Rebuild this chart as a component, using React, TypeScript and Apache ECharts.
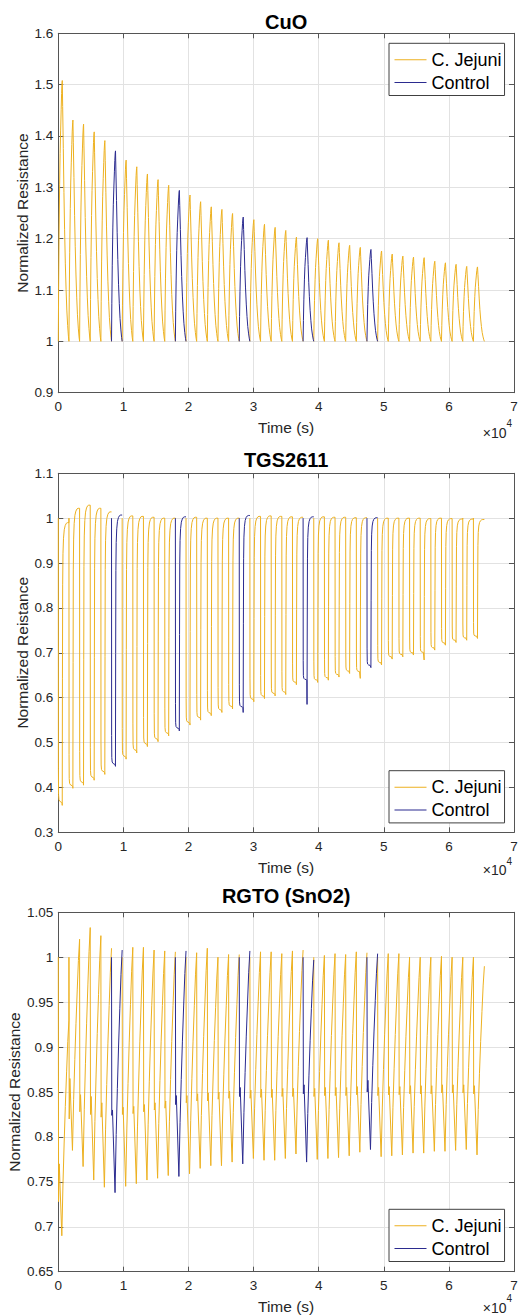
import React, { useEffect, useRef } from "react";
import * as echarts from "echarts";

// ---------------- data ----------------
// start time (s) of each exposure cycle
const cycleStart = [
  0, 1635, 3270, 4905, 6540, 8175, 9810, 11445, 13080, 14715,
  16350, 17985, 19620, 21255, 22890, 24525, 26160, 27795, 29430, 31065,
  32700, 34335, 35970, 37605, 39240, 40875, 42510, 44145, 45780, 47415,
  49050, 50685, 52320, 53955, 55590, 57225, 58860, 60495, 62130, 63765,
];
const lastCycleEnd = 65450;
// cycles that are Control exposures (others are C. Jejuni)
const controlCycles = [5, 11, 17, 23, 29];

const seriesNames = ["C. Jejuni", "Control"];
const panelTitles = ["CuO", "TGS2611", "RGTO (SnO2)"];
const yAxisNames = ["Normalized Resistance", "Normalized Reistance", "Normalized Resistance"];
const xAxisName = "Time (s)";
const xMin = 0;
const xMax = 70000;
const xStep = 10000;
const yMin = [0.9, 0.3, 0.65];
const yMax = [1.6, 1.1, 1.05];
const yStep = [0.1, 0.1, 0.05];

// CuO: peak of each cycle
const cuoPeak = [
  1.508, 1.431, 1.423, 1.408, 1.391, 1.371, 1.353, 1.34, 1.326, 1.315,
  1.304, 1.294, 1.285, 1.272, 1.262, 1.257, 1.249, 1.242, 1.237, 1.228,
  1.222, 1.216, 1.203, 1.202, 1.2, 1.197, 1.192, 1.187, 1.183, 1.179,
  1.176, 1.17, 1.166, 1.164, 1.163, 1.156, 1.153, 1.15, 1.146, 1.145,
];
// CuO cycle profile: [phase within cycle, fraction of peak rise]
const cuoShape: [number, number][] = [
  [0, 0], [0.03, 0.2], [0.07, 0.4], [0.125, 0.6], [0.17, 0.72], [0.22, 0.81],
  [0.27, 0.89], [0.31, 0.95], [0.35, 0.99], [0.375, 1], [0.41, 0.9], [0.47, 0.74],
  [0.53, 0.57], [0.59, 0.43], [0.66, 0.3], [0.73, 0.2], [0.8, 0.12], [0.88, 0.06],
  [0.95, 0.02], [1, 0],
];

// TGS2611: bottom, lowest dip and end value of each cycle
const tgsMin = [
  0.365, 0.402, 0.409, 0.42, 0.433, 0.45, 0.467, 0.481, 0.495, 0.506,
  0.519, 0.53, 0.543, 0.554, 0.564, 0.571, 0.579, 0.578, 0.595, 0.602,
  0.608, 0.611, 0.633, 0.639, 0.638, 0.643, 0.65, 0.658, 0.657, 0.671,
  0.677, 0.69, 0.695, 0.699, 0.7, 0.71, 0.721, 0.727, 0.732, 0.736,
];
const tgsDip = [
  0.36, 0.398, 0.405, 0.416, 0.429, 0.447, 0.463, 0.477, 0.491, 0.502,
  0.515, 0.526, 0.539, 0.55, 0.56, 0.567, 0.575, 0.567, 0.591, 0.598,
  0.604, 0.607, 0.629, 0.585, 0.634, 0.639, 0.646, 0.654, 0.643, 0.667,
  0.673, 0.686, 0.691, 0.695, 0.684, 0.706, 0.717, 0.723, 0.728, 0.732,
];
const tgsEnd = [
  0.99, 1.022, 1.029, 1.022, 1.014, 1.007, 1.005, 1.004, 1.002, 1.0,
  1.0, 1.003, 1.002, 1.0, 1.0, 1.0, 1.0, 1.006, 1.004, 1.005,
  1.004, 1.003, 1.002, 1.003, 1.003, 1.002, 1.002, 1.001, 1.001, 1.001,
  1.0, 1.0, 1.0, 1.0, 0.999, 1.0, 0.999, 0.998, 0.998, 0.997,
];
// drop profile: [phase, fraction of (1 - bottom) above bottom]
const tgsDropShape: [number, number][] = [
  [0, 1], [0.01, 0.12], [0.025, 0.03], [0.06, 0.012], [0.15, 0.006], [0.3, 0.003], [0.35, 0],
];
const tgsDipPhase = 0.37;
// recovery profile: [phase, fraction of (end - dip) above dip]
const tgsRiseShape: [number, number][] = [
  [0.38, 0], [0.39, 0.45], [0.41, 0.78], [0.44, 0.89], [0.49, 0.945], [0.56, 0.975],
  [0.65, 0.99], [0.76, 0.998], [0.86, 1], [1, 1],
];

// RGTO (SnO2): shoulder, rebound, bottom and end value of each cycle
const rgtoShoulder = [
  0.728, 0.82, 0.828, 0.825, 0.822, 0.824, 0.825, 0.826, 0.828, 0.83,
  0.832, 0.836, 0.838, 0.84, 0.84, 0.842, 0.843, 0.845, 0.843, 0.844,
  0.844, 0.845, 0.845, 0.848, 0.845, 0.846, 0.846, 0.846, 0.847, 0.85,
  0.846, 0.847, 0.847, 0.848, 0.848, 0.848, 0.849, 0.849, 0.849, 0.848,
];
const rgtoRebound = [
  0.77, 0.865, 0.847, 0.845, 0.838, 0.83, 0.833, 0.834, 0.836, 0.838,
  0.84, 0.846, 0.846, 0.848, 0.849, 0.85, 0.851, 0.855, 0.852, 0.853,
  0.853, 0.854, 0.854, 0.858, 0.854, 0.855, 0.855, 0.855, 0.856, 0.863,
  0.855, 0.856, 0.856, 0.857, 0.857, 0.857, 0.858, 0.858, 0.858, 0.857,
];
const rgtoMin = [
  0.69, 0.785, 0.767, 0.752, 0.744, 0.738, 0.745, 0.748, 0.752, 0.754,
  0.757, 0.756, 0.759, 0.765, 0.768, 0.768, 0.772, 0.77, 0.776, 0.774,
  0.774, 0.776, 0.781, 0.772, 0.775, 0.776, 0.777, 0.779, 0.783, 0.786,
  0.778, 0.779, 0.78, 0.782, 0.782, 0.784, 0.784, 0.785, 0.786, 0.78,
];
const rgtoEnd = [
  0.93, 1.02, 1.033, 1.024, 1.01, 1.008, 1.011, 1.011, 1.008, 1.007,
  1.006, 1.007, 1.005, 1.01, 1.0, 1.003, 1.003, 1.007, 1.006, 1.006,
  1.004, 1.007, 1.008, 0.997, 1.002, 1.004, 1.003, 1.006, 1.005, 1.004,
  1.004, 1.004, 0.999, 0.999, 1.0, 1.001, 1.0, 0.999, 0.999, 0.99,
];
// drop phases for [start, shoulder, rebound, bottom]
const rgtoDropPhase = [0, 0.025, 0.09, 0.33];
// recovery profile: [phase, fraction of (end - bottom) above bottom]
const rgtoRiseShape: [number, number][] = [
  [0.44, 0.24], [0.55, 0.43], [0.66, 0.6], [0.78, 0.76], [0.89, 0.9], [1, 1],
];

// ---------------- styling / layout ----------------
const FONT = "'Liberation Sans', Arial, Helvetica, sans-serif";
const ORANGE = "#EDB120";
const NAVY = "#2B2B8F";
const AXIS = "#555555";
const TEXT = "#262626";
const GRID = "#e2e2e2";
const GRID_LEFT = 58.3;
const GRID_WIDTH = 455.7;
const PANEL_TOP = [33.3, 473.3, 912.3];
const PANEL_HEIGHT = [359.4, 359, 359.4];
const TITLE_Y = [22.2, 460.3, 896.3];
const YNAME_GAP = [28, 28, 36];
const LEGEND_TOP = [43.3, 770.7, 1209.3];
const EXP_OFFSET = [40, 38, 36];

type Pt = [number, number | string];

function cycleSpan(i: number): [number, number] {
  const t0 = cycleStart[i];
  const t1 = i + 1 < cycleStart.length ? cycleStart[i + 1] : lastCycleEnd;
  return [t0, t1];
}

function cuoCycle(i: number): Pt[] {
  const [t0, t1] = cycleSpan(i);
  const d = t1 - t0;
  const amp = cuoPeak[i] - 1;
  return cuoShape.map(([p, f]) => [t0 + p * d, 1 + f * amp] as Pt);
}

function tgsCycle(i: number): Pt[] {
  const [t0, t1] = cycleSpan(i);
  const d = t1 - t0;
  const m = tgsMin[i];
  const dip = tgsDip[i];
  const e = tgsEnd[i];
  const pts: Pt[] = tgsDropShape.map(([p, f]) => [t0 + p * d, m + f * (1 - m)] as Pt);
  pts.push([t0 + tgsDipPhase * d, dip]);
  tgsRiseShape.forEach(([p, f]) => pts.push([t0 + p * d, dip + f * (e - dip)]));
  return pts;
}

function rgtoCycle(i: number): Pt[] {
  const [t0, t1] = cycleSpan(i);
  const d = t1 - t0;
  const vals = [1, rgtoShoulder[i], rgtoRebound[i], rgtoMin[i]];
  const pts: Pt[] = rgtoDropPhase.map((p, k) => [t0 + p * d, vals[k]] as Pt);
  const m = rgtoMin[i];
  const e = rgtoEnd[i];
  rgtoRiseShape.forEach(([p, f]) => pts.push([t0 + p * d, m + f * (e - m)]));
  return pts;
}

function splitSeries(fn: (i: number) => Pt[]) {
  const jej: Pt[] = [];
  const ctl: Pt[] = [];
  let lastJ = -2;
  let lastC = -2;
  for (let i = 0; i < cycleStart.length; i++) {
    const pts = fn(i);
    if (controlCycles.includes(i)) {
      if (ctl.length && lastC !== i - 1) ctl.push([pts[0][0] as number, "-"]);
      ctl.push(...pts);
      lastC = i;
    } else {
      if (jej.length && lastJ !== i - 1) jej.push([pts[0][0] as number, "-"]);
      jej.push(...pts);
      lastJ = i;
    }
  }
  return { jej, ctl };
}

function fmtY(v: number) {
  return String(parseFloat(v.toFixed(3)));
}

function buildOption() {
  const panels = [splitSeries(cuoCycle), splitSeries(tgsCycle), splitSeries(rgtoCycle)];
  const grid: any[] = [];
  const xAxis: any[] = [];
  const yAxis: any[] = [];
  const series: any[] = [];
  const graphic: any[] = [];
  const legend: any[] = [];

  const axisLine = { show: true, onZero: false, lineStyle: { color: AXIS, width: 1 } };
  const axisTick = { show: true, inside: true, length: 5, lineStyle: { color: AXIS, width: 1 } };

  panels.forEach((pd, k) => {
    grid.push({
      left: GRID_LEFT,
      top: PANEL_TOP[k],
      width: GRID_WIDTH,
      height: PANEL_HEIGHT[k],
      containLabel: false,
      outerBoundsMode: "none",
      show: false,
    });
    xAxis.push({
      type: "value",
      gridIndex: k,
      position: "bottom",
      min: xMin,
      max: xMax,
      interval: xStep,
      axisLine,
      axisTick,
      axisLabel: {
        show: true,
        margin: 7,
        color: TEXT,
        fontSize: 13.5,
        fontFamily: FONT,
        formatter: (v: number) => String(v / 10000),
      },
      splitLine: { show: true, lineStyle: { color: GRID, width: 1 } },
      minorTick: { show: false },
      name: xAxisName,
      nameLocation: "middle",
      nameGap: 27,
      nameMoveOverlap: false,
      nameTextStyle: { color: TEXT, fontSize: 15.5, fontFamily: FONT },
    });
    xAxis.push({
      type: "value",
      gridIndex: k,
      position: "top",
      min: xMin,
      max: xMax,
      interval: xStep,
      axisLine,
      axisTick,
      axisLabel: { show: false },
      splitLine: { show: false },
    });
    yAxis.push({
      type: "value",
      gridIndex: k,
      position: "left",
      min: yMin[k],
      max: yMax[k],
      interval: yStep[k],
      axisLine,
      axisTick,
      axisLabel: {
        show: true,
        margin: 5,
        color: TEXT,
        fontSize: 13.5,
        fontFamily: FONT,
        formatter: fmtY,
      },
      splitLine: { show: true, lineStyle: { color: GRID, width: 1 } },
      name: yAxisNames[k],
      nameLocation: "middle",
      nameGap: YNAME_GAP[k],
      nameMoveOverlap: false,
      nameTextStyle: { color: TEXT, fontSize: 15.5, fontFamily: FONT },
    });
    yAxis.push({
      type: "value",
      gridIndex: k,
      position: "right",
      min: yMin[k],
      max: yMax[k],
      interval: yStep[k],
      axisLine,
      axisTick,
      axisLabel: { show: false },
      splitLine: { show: false },
    });
    series.push({
      type: "line",
      name: seriesNames[0],
      xAxisIndex: 2 * k,
      yAxisIndex: 2 * k,
      data: pd.jej,
      color: ORANGE,
      showSymbol: false,
      symbol: "none",
      connectNulls: false,
      lineStyle: { color: ORANGE, width: 1 },
      itemStyle: { color: ORANGE },
      silent: true,
      z: 2,
    });
    series.push({
      type: "line",
      name: seriesNames[1],
      xAxisIndex: 2 * k,
      yAxisIndex: 2 * k,
      data: pd.ctl,
      color: NAVY,
      showSymbol: false,
      symbol: "none",
      connectNulls: false,
      lineStyle: { color: NAVY, width: 1 },
      itemStyle: { color: NAVY },
      silent: true,
      z: 3,
    });
    legend.push({
      data: seriesNames,
      orient: "vertical",
      left: 389,
      top: LEGEND_TOP[k],
      icon: "rect",
      itemWidth: 32,
      itemHeight: 1,
      itemGap: 3.7,
      padding: [7, 3, 3.5, 5.5],
      backgroundColor: "#ffffff",
      borderColor: "#404040",
      borderWidth: 1,
      borderRadius: 0,
      selectedMode: false,
      textStyle: { fontSize: 18, fontFamily: FONT, color: "#000", lineHeight: 19 },
      z: 10,
    });
    graphic.push({
      type: "text",
      x: GRID_LEFT + GRID_WIDTH / 2,
      y: TITLE_Y[k],
      style: {
        text: panelTitles[k],
        fill: "#000",
        fontSize: 20,
        fontWeight: "bold",
        fontFamily: FONT,
        align: "center",
        verticalAlign: "middle",
        textAlign: "center",
        textVerticalAlign: "middle",
      },
    });
    const base = PANEL_TOP[k] + PANEL_HEIGHT[k];
    graphic.push({
      type: "text",
      x: 482.7,
      y: base + EXP_OFFSET[k],
      style: {
        text: "×10",
        fill: TEXT,
        fontSize: 14,
        fontFamily: FONT,
        align: "left",
        verticalAlign: "middle",
        textAlign: "left",
        textVerticalAlign: "middle",
      },
    });
    graphic.push({
      type: "text",
      x: 506.5,
      y: base + EXP_OFFSET[k] - 9,
      style: {
        text: "4",
        fill: TEXT,
        fontSize: 10,
        fontFamily: FONT,
        align: "left",
        verticalAlign: "middle",
        textAlign: "left",
        textVerticalAlign: "middle",
      },
    });
  });

  return {
    animation: false,
    backgroundColor: "#ffffff",
    grid,
    xAxis,
    yAxis,
    series,
    legend,
    graphic,
  };
}

export default function App() {
  const ref = useRef<HTMLDivElement>(null);
  useEffect(() => {
    if (!ref.current) return;
    const chart = echarts.init(ref.current, undefined, { renderer: "svg" });
    chart.setOption(buildOption() as any);
    return () => chart.dispose();
  }, []);
  return (
    <div
      ref={ref}
      style={{ position: "absolute", left: 0, top: 0, width: 519, height: 1316, background: "#fff" }}
    />
  );
}
